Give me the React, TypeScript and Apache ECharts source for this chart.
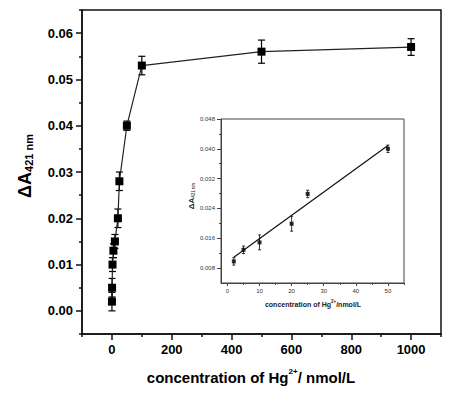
import React, { useEffect, useRef } from "react";
import * as echarts from "echarts";

// Main plot data (Hg2+ concentration, nmol/L)
const concentrations = [0.1, 0.5, 2, 5, 10, 20, 25, 50, 100, 500, 1000];
const deltaA = [0.002, 0.005, 0.010, 0.013, 0.015, 0.020, 0.028, 0.040, 0.053, 0.056, 0.057];
const deltaAErr = [0.002, 0.002, 0.0015, 0.0015, 0.0015, 0.002, 0.002, 0.001, 0.002, 0.0025, 0.0018];

// Inset data
const insetConc = [2, 5, 10, 20, 25, 50];
const insetDeltaA = [0.0098, 0.0129, 0.0149, 0.0199, 0.0279, 0.040];
const insetErr = [0.001, 0.001, 0.002, 0.002, 0.001, 0.001];
const fitConc = [2, 50];
const fitDeltaA = [0.0109, 0.0409];

// Tick values
const mainXMajor = [0, 200, 400, 600, 800, 1000];
const mainXMinor = [-100, 100, 300, 500, 700, 900, 1100];
const mainYMajor = [0, 0.01, 0.02, 0.03, 0.04, 0.05, 0.06];
const mainYMinor = [-0.005, 0.005, 0.015, 0.025, 0.035, 0.045, 0.055, 0.065];
const insetXMajor = [0, 10, 20, 30, 40, 50];
const insetXMinor = [5, 15, 25, 35, 45, 55];
const insetYMajor = [0.008, 0.016, 0.024, 0.032, 0.040, 0.048];
const insetYMinor = [0.012, 0.020, 0.028, 0.036, 0.044];

const FONT = "Liberation Sans, Arial, sans-serif";

function errorBarRender(capHalf: number, lw: number) {
  return (params: any, api: any) => {
    const x = api.value(0);
    const lo = api.coord([x, api.value(1)]);
    const hi = api.coord([x, api.value(2)]);
    const style = { stroke: "#000", lineWidth: lw };
    return {
      type: "group",
      children: [
        { type: "line", shape: { x1: lo[0], y1: lo[1], x2: hi[0], y2: hi[1] }, style },
        { type: "line", shape: { x1: lo[0] - capHalf, y1: lo[1], x2: lo[0] + capHalf, y2: lo[1] }, style },
        { type: "line", shape: { x1: hi[0] - capHalf, y1: hi[1], x2: hi[0] + capHalf, y2: hi[1] }, style },
      ],
    };
  };
}

export default function App() {
  const ref = useRef<HTMLDivElement>(null);
  useEffect(() => {
    if (!ref.current) return;
    const chart = echarts.init(ref.current, null, { renderer: "svg" });
    const mainPts = concentrations.map((x, i) => [x, deltaA[i]]);
    const mainErr = concentrations.map((x, i) => [x, deltaA[i] - deltaAErr[i], deltaA[i] + deltaAErr[i]]);
    const insetPts = insetConc.map((x, i) => [x, insetDeltaA[i]]);
    const insetErrData = insetConc.map((x, i) => [x, insetDeltaA[i] - insetErr[i], insetDeltaA[i] + insetErr[i]]);
    const fitPts = fitConc.map((x, i) => [x, fitDeltaA[i]]);

    const mainLabel = { fontFamily: FONT, fontWeight: "bold", fontSize: 13, color: "#000" };
    const insetLabel = { fontFamily: FONT, fontSize: 6, color: "#333" };

    chart.setOption({
      animation: false,
      backgroundColor: "#fff",
      grid: [
        { left: 82, top: 10, right: 11, bottom: 59, show: true, borderColor: "#111", borderWidth: 1.5, backgroundColor: "transparent" },
        { left: 221, top: 119, width: 183, height: 164, show: true, borderColor: "#444", borderWidth: 1, backgroundColor: "transparent" },
      ],
      xAxis: [
        {
          type: "value", gridIndex: 0, position: "bottom", min: -100, max: 1100,
          axisLine: { onZero: false, lineStyle: { color: "#111", width: 1.5 } },
          axisTick: { customValues: mainXMajor, length: 6, lineStyle: { color: "#111", width: 1.5 } },
          axisLabel: { customValues: mainXMajor, margin: 9, formatter: (v: number) => String(v), ...mainLabel },
          splitLine: { show: false },
        },
        {
          type: "value", gridIndex: 0, position: "bottom", min: -100, max: 1100,
          axisLine: { show: false, onZero: false },
          axisTick: { customValues: mainXMinor, length: 3, lineStyle: { color: "#111", width: 1.5 } },
          axisLabel: { show: false }, splitLine: { show: false },
        },
        {
          type: "value", gridIndex: 1, position: "bottom", min: -2, max: 55,
          axisLine: { onZero: false, lineStyle: { color: "#444", width: 1 } },
          axisTick: { customValues: insetXMajor, length: 3, lineStyle: { color: "#444" } },
          axisLabel: { customValues: insetXMajor, margin: 5, formatter: (v: number) => String(v), ...insetLabel },
          splitLine: { show: false },
        },
        {
          type: "value", gridIndex: 1, position: "bottom", min: -2, max: 55,
          axisLine: { show: false, onZero: false },
          axisTick: { customValues: insetXMinor, length: 2, lineStyle: { color: "#444" } },
          axisLabel: { show: false }, splitLine: { show: false },
        },
      ],
      yAxis: [
        {
          type: "value", gridIndex: 0, position: "left", min: -0.005, max: 0.065,
          axisLine: { show: true, onZero: false, lineStyle: { color: "#111", width: 1.5 } },
          axisTick: { show: true, customValues: mainYMajor, length: 6, lineStyle: { color: "#111", width: 1.5 } },
          axisLabel: { customValues: mainYMajor, margin: 9, formatter: (v: number) => v.toFixed(2), ...mainLabel },
          splitLine: { show: false },
        },
        {
          type: "value", gridIndex: 0, position: "left", min: -0.005, max: 0.065,
          axisLine: { show: false, onZero: false },
          axisTick: { show: true, customValues: mainYMinor, length: 3, lineStyle: { color: "#111", width: 1.5 } },
          axisLabel: { show: false }, splitLine: { show: false },
        },
        {
          type: "value", gridIndex: 1, position: "left", min: 0.004, max: 0.048,
          axisLine: { show: true, onZero: false, lineStyle: { color: "#444", width: 1 } },
          axisTick: { show: true, customValues: insetYMajor, length: 4, lineStyle: { color: "#444" } },
          axisLabel: { customValues: insetYMajor, margin: 6, formatter: (v: number) => v.toFixed(3), ...insetLabel },
          splitLine: { show: false },
        },
        {
          type: "value", gridIndex: 1, position: "left", min: 0.004, max: 0.048,
          axisLine: { show: false, onZero: false },
          axisTick: { show: true, customValues: insetYMinor, length: 2, lineStyle: { color: "#444" } },
          axisLabel: { show: false }, splitLine: { show: false },
        },
      ],
      series: [
        {
          type: "custom", xAxisIndex: 0, yAxisIndex: 0, data: mainErr,
          encode: { x: 0, y: [1, 2] }, renderItem: errorBarRender(3.5, 1.2), z: 3,
        },
        {
          type: "line", xAxisIndex: 0, yAxisIndex: 0, data: mainPts,
          symbol: "rect", symbolSize: 8,
          lineStyle: { color: "#222", width: 1.2 },
          itemStyle: { color: "#000" }, z: 4,
        },
        {
          type: "custom", xAxisIndex: 2, yAxisIndex: 2, data: insetErrData,
          encode: { x: 0, y: [1, 2] }, renderItem: errorBarRender(1.5, 0.8), z: 3,
        },
        {
          type: "scatter", xAxisIndex: 2, yAxisIndex: 2, data: insetPts,
          symbol: "rect", symbolSize: 4, itemStyle: { color: "#000" }, z: 4,
        },
        {
          type: "line", xAxisIndex: 2, yAxisIndex: 2, data: fitPts,
          symbol: "none", lineStyle: { color: "#111", width: 1.2 }, z: 5,
        },
      ],
      graphic: [
        {
          type: "text", x: 24, y: 166, rotation: Math.PI / 2,
          style: {
            text: "{a|ΔA}{b|421 nm}",
            align: "center", verticalAlign: "middle",
            rich: {
              a: { fontFamily: FONT, fontWeight: "bold", fontSize: 18, fill: "#000", lineHeight: 20, verticalAlign: "bottom" },
              b: { fontFamily: FONT, fontWeight: "bold", fontSize: 11, fill: "#000", lineHeight: 20, verticalAlign: "bottom", padding: [8, 0, 0, 0] },
            },
          },
        },
        {
          type: "text", x: 251, y: 376,
          style: {
            text: "{a|concentration of Hg}{s|2+}{a|/ nmol/L}",
            align: "center", verticalAlign: "middle",
            rich: {
              a: { fontFamily: FONT, fontWeight: "bold", fontSize: 15, fill: "#000", lineHeight: 18, verticalAlign: "bottom" },
              s: { fontFamily: FONT, fontWeight: "bold", fontSize: 8, fill: "#000", lineHeight: 18, verticalAlign: "top", padding: [0, 0, 8, 0] },
            },
          },
        },
        {
          type: "text", x: 313, y: 303,
          style: {
            text: "{a|concentration of Hg}{s|2+}{a|/nmol/L}",
            align: "center", verticalAlign: "middle",
            rich: {
              a: { fontFamily: FONT, fontWeight: "bold", fontSize: 7, fill: "#222", lineHeight: 9, verticalAlign: "bottom" },
              s: { fontFamily: FONT, fontWeight: "bold", fontSize: 4.5, fill: "#222", lineHeight: 9, verticalAlign: "top", padding: [0, 0, 4, 0] },
            },
          },
        },
        {
          type: "text", x: 191, y: 196, rotation: Math.PI / 2,
          style: {
            text: "{a|ΔA}{b|421 nm}",
            align: "center", verticalAlign: "middle",
            rich: {
              a: { fontFamily: FONT, fontWeight: "bold", fontSize: 8, fill: "#222", lineHeight: 9, verticalAlign: "bottom" },
              b: { fontFamily: FONT, fontSize: 4.5, fill: "#222", lineHeight: 9, verticalAlign: "bottom", padding: [3, 0, 0, 0] },
            },
          },
        },
      ],
    });
    return () => chart.dispose();
  }, []);
  return <div ref={ref} style={{ width: 452, height: 393, position: "absolute", left: 0, top: 0 }} />;
}
